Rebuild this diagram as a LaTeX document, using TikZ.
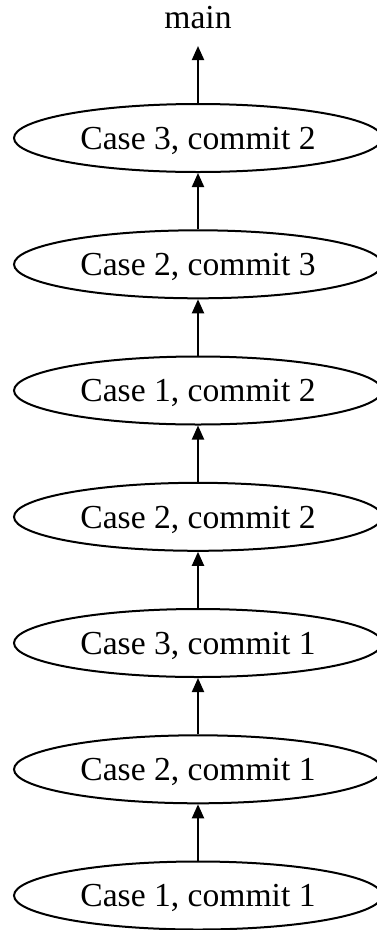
\documentclass[tikz,border=0pt]{standalone}
\usepackage{fontspec}
\setmainfont{Liberation Serif}
\usetikzlibrary{arrows.meta,shapes.geometric}
\begin{document}
\begin{tikzpicture}[x=1pt,y=-1pt,
  commit/.style={draw, ellipse, line width=2pt, minimum width=368pt, minimum height=68pt, inner sep=0pt,
    font=\fontsize{33.6}{40}\selectfont, text height=22.4pt, text depth=0pt},
  edge/.style={line width=2pt, -{Triangle[length=14pt,width=12pt]}}]
\useasboundingbox (0,0) rectangle (376,930);
\node[font=\fontsize{33.6}{40}\selectfont, inner sep=0pt, anchor=base] (main) at (198,28.5) {main};
\node[commit] (c32) at (198,138) {Case 3, commit 2};
\node[commit] (c23) at (198,264.3) {Case 2, commit 3};
\node[commit] (c12) at (198,390.5) {Case 1, commit 2};
\node[commit] (c22) at (198,516.8) {Case 2, commit 2};
\node[commit] (c31) at (198,643) {Case 3, commit 1};
\node[commit] (c21) at (198,769.3) {Case 2, commit 1};
\node[commit] (c11) at (198,895.5) {Case 1, commit 1};
\draw[edge, shorten >=17pt] (c32.north) -- (main.south);
\draw[edge] (c23) -- (c32);
\draw[edge] (c12) -- (c23);
\draw[edge] (c22) -- (c12);
\draw[edge] (c31) -- (c22);
\draw[edge] (c21) -- (c31);
\draw[edge] (c11) -- (c21);
\end{tikzpicture}
\end{document}
